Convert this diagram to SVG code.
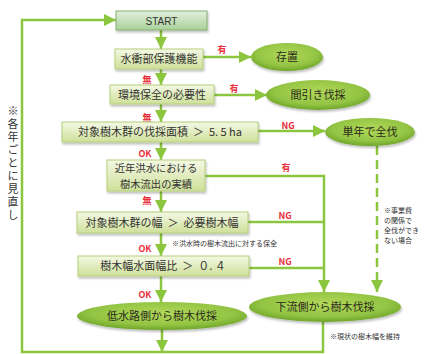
<svg xmlns="http://www.w3.org/2000/svg" width="424" height="354" viewBox="0 0 424 354">
<defs>
<linearGradient id="gBox" x1="0" y1="0" x2="0" y2="1">
<stop offset="0" stop-color="#f4f8e4"/>
<stop offset="1" stop-color="#cfe09a"/>
</linearGradient>
<linearGradient id="gStart" x1="0" y1="0" x2="0" y2="1">
<stop offset="0" stop-color="#e2efdc"/>
<stop offset="1" stop-color="#a9d19a"/>
</linearGradient>
<radialGradient id="gEll" cx="0.5" cy="0.4" r="0.6">
<stop offset="0" stop-color="#b2d85a"/>
<stop offset="0.7" stop-color="#93c443"/>
<stop offset="1" stop-color="#6fa52a"/>
</radialGradient>
<filter id="sh" x="-10%" y="-20%" width="120%" height="150%">
<feDropShadow dx="1" dy="2" stdDeviation="1.2" flood-color="#000" flood-opacity="0.25"/>
</filter>
<marker id="ah" viewBox="0 0 10 10" refX="10" refY="5" markerWidth="12" markerHeight="12" markerUnits="userSpaceOnUse" orient="auto">
<path d="M0 0 L10 5 L0 10 Z" fill="#8cc63e"/>
</marker>
</defs>
<style>
.box{fill:url(#gBox);stroke:#b5cf7a;stroke-width:1;filter:url(#sh)}
.start{fill:url(#gStart);stroke:#86b070;stroke-width:1;filter:url(#sh)}
.ell{fill:url(#gEll);filter:url(#sh)}
.t{font-family:"Noto Sans CJK JP","Noto Sans",sans-serif;font-size:11px;fill:#333;text-anchor:middle}
.t2{font-family:"Noto Sans CJK JP","Noto Sans",sans-serif;font-size:10.3px;fill:#333;text-anchor:middle}
.et{font-family:"Noto Sans CJK JP","Noto Sans",sans-serif;font-size:11px;fill:#2a2a1a;text-anchor:middle}
.lab{font-family:"Noto Sans CJK JP","Liberation Sans",sans-serif;font-size:9px;fill:#e8313c;text-anchor:middle;font-weight:bold}
.note{font-family:"Noto Sans CJK JP",sans-serif;font-size:7px;fill:#333}
.c{fill:none;stroke:#8cc63e;stroke-width:2.5}
.d{fill:none;stroke:#8cc63e;stroke-width:2.5;stroke-dasharray:9 5}
</style>
<g id="connectors">
<path class="c" d="M323 322 V352 H22 V20 H116" marker-end="url(#ah)"/>
<path class="c" d="M161 30 V49" marker-end="url(#ah)"/>
<path class="c" d="M161 69 V85" marker-end="url(#ah)"/>
<path class="c" d="M161 104 V122" marker-end="url(#ah)"/>
<path class="c" d="M161 142 V160" marker-end="url(#ah)"/>
<path class="c" d="M161 191 V212" marker-end="url(#ah)"/>
<path class="c" d="M161 233 V256" marker-end="url(#ah)"/>
<path class="c" d="M161 276 V302" marker-end="url(#ah)"/>
<path class="c" d="M162 330 V352" marker-end="url(#ah)"/>
<path class="c" d="M203 57 H251" marker-end="url(#ah)"/>
<path class="c" d="M214 95 H267" marker-end="url(#ah)"/>
<path class="c" d="M258 131 H325" marker-end="url(#ah)"/>
<path class="d" d="M377 146 V292" marker-end="url(#ah)"/>
<path class="c" d="M205 176 H324 V292" marker-end="url(#ah)"/>
<path class="c" d="M248 222 H324"/>
<path class="c" d="M249 268 H324"/>
<text class="lab" x="222" y="53">有</text>
<text class="lab" x="234" y="92">有</text>
<text class="lab" x="288" y="129">NG</text>
<text class="lab" x="286" y="171">有</text>
<text class="lab" x="285" y="219">NG</text>
<text class="lab" x="285" y="265">NG</text>
<text class="lab" x="147" y="83">無</text>
<text class="lab" x="147" y="121">無</text>
<text class="lab" x="145" y="157">OK</text>
<text class="lab" x="147" y="204">無</text>
<text class="lab" x="145" y="252">OK</text>
<text class="lab" x="145" y="298">OK</text>
</g>
<g id="start"><rect class="start" x="116" y="11" width="91" height="19"/><text class="t" x="161.5" y="24.5" style="font-family:'Liberation Sans',sans-serif;font-size:10px">START</text></g>
<g id="n1"><rect class="box" x="115" y="49" width="88" height="20"/><text class="t" x="159" y="63">水衝部保護機能</text></g>
<g id="n2"><rect class="box" x="110" y="85" width="104" height="19"/><text class="t" x="162" y="98.5">環境保全の必要性</text></g>
<g id="n3"><rect class="box" x="62" y="122" width="196" height="20"/><text class="t" x="160" y="136" xml:space="preserve">対象樹木群の伐採面積  ＞  5. 5 ha</text></g>
<g id="n4"><rect class="box" x="107" y="160" width="98" height="31"/><text class="t2" x="156" y="172">近年洪水における</text><text class="t2" x="156" y="187.5">樹木流出の実績</text></g>
<g id="n5"><rect class="box" x="77" y="212" width="171" height="21"/><text class="t" x="162" y="226.5" xml:space="preserve">対象樹木群の幅  ＞  必要樹木幅</text></g>
<g id="n6"><rect class="box" x="78" y="256" width="171" height="20"/><text class="t" x="163" y="270" xml:space="preserve">樹木幅水面幅比  ＞  ０. ４</text></g>
<g id="e1"><ellipse class="ell" cx="287" cy="57" rx="36" ry="14"/><text class="et" x="287" y="61">存置</text></g>
<g id="e2"><ellipse class="ell" cx="318" cy="95" rx="52" ry="15"/><text class="et" x="318" y="99">間引き伐採</text></g>
<g id="e3"><ellipse class="ell" cx="370" cy="132" rx="45" ry="14"/><text class="et" x="370" y="136">単年で全伐</text></g>
<g id="e4"><ellipse class="ell" cx="162" cy="316" rx="85" ry="14"/><text class="et" x="162" y="320">低水路側から樹木伐採</text></g>
<g id="e5"><ellipse class="ell" cx="325" cy="307" rx="76" ry="15"/><text class="et" x="325" y="311">下流側から樹木伐採</text></g>
<g id="notes">
<text class="note" x="172" y="246">※洪水時の樹木流出に対する保全</text>
<text class="note" x="330" y="339">※現状の樹木幅を維持</text>
<text class="note" x="384" y="213">※事業費</text>
<text class="note" x="384" y="223">の関係で</text>
<text class="note" x="384" y="233">全伐ができ</text>
<text class="note" x="384" y="243">ない場合</text>
<text x="13" y="105" style="font-family:'Noto Sans CJK JP',sans-serif;font-size:11px;fill:#333;writing-mode:vertical-rl;letter-spacing:2px">※各年ごとに見直し</text>
</g>
</svg>
